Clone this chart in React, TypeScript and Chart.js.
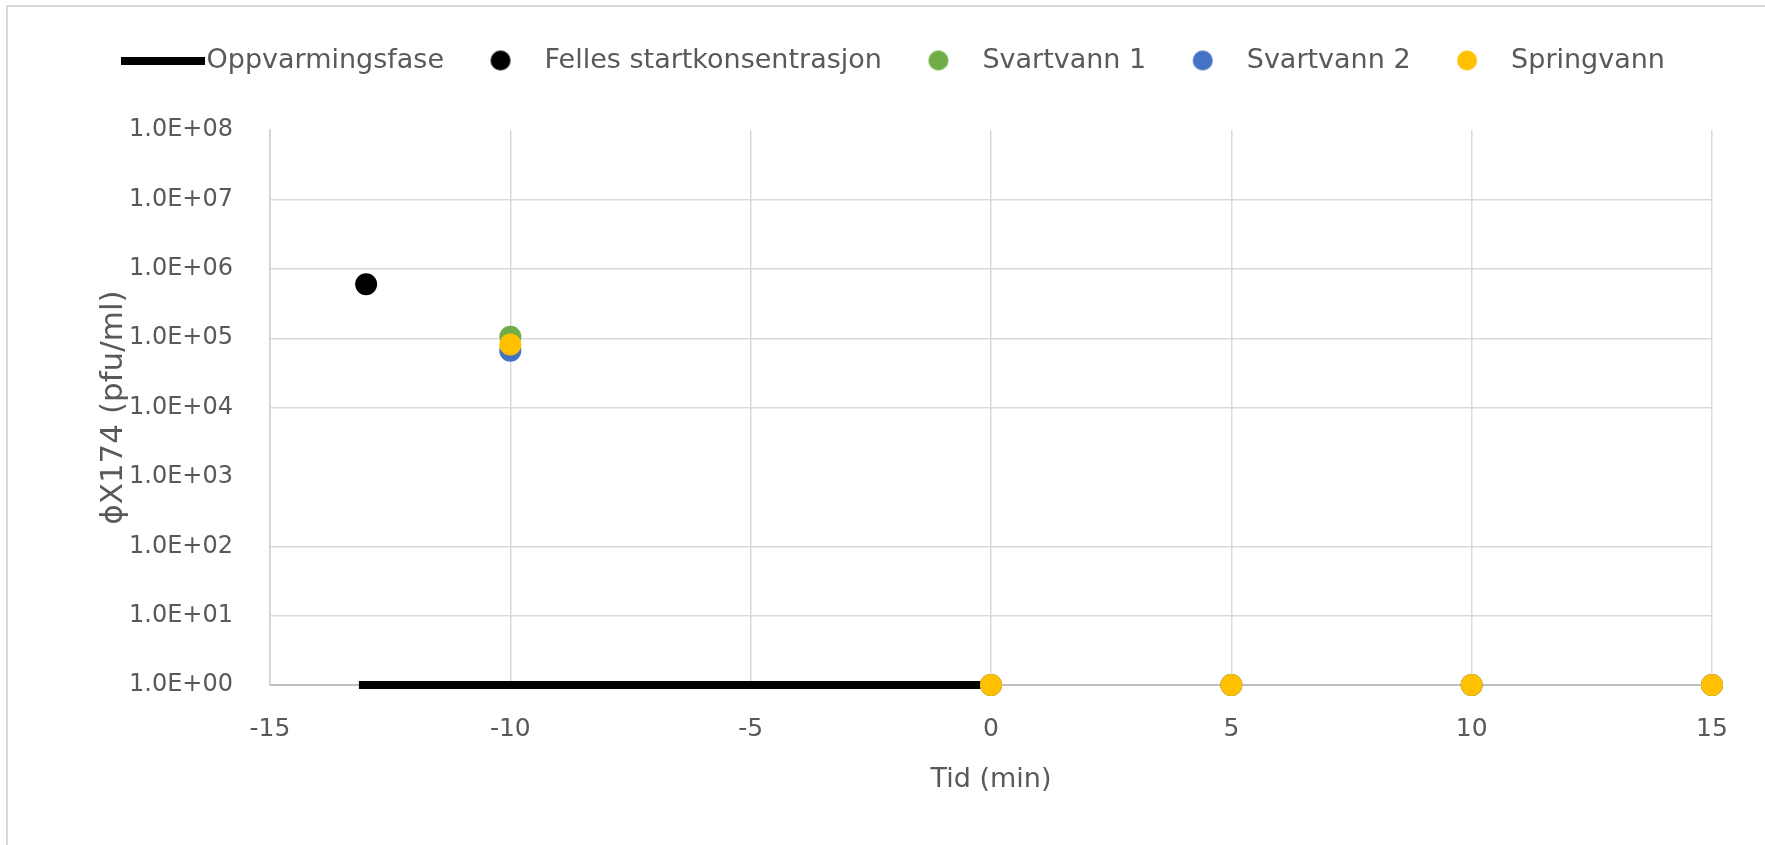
import React, { useEffect, useRef } from "react";
import { Chart, registerables } from "chart.js";

Chart.register(...registerables);

// ---- Data ----
const SERIES_LABELS = [
  "Oppvarmingsfase",
  "Felles startkonsentrasjon",
  "Svartvann 1",
  "Svartvann 2",
  "Springvann",
];
const SERIES_COLORS = ["#000000", "#000000", "#70ad47", "#4472c4", "#ffc000"];

const HEATING_X = [-13.15, 0];
const HEATING_Y = [1, 1];

const START_X = [-13];
const START_Y = [6.0e5];

const TIMES = [-10, 0, 5, 10, 15];
const SVARTVANN_1 = [1.05e5, 1, 1, 1, 1];
const SVARTVANN_2 = [6.6e4, 1, 1, 1, 1];
const SPRINGVANN = [8.1e4, 1, 1, 1, 1];

const X_MIN = -15;
const X_MAX = 15;
const X_STEP = 5;

const Y_TICKS = [1, 10, 100, 1e3, 1e4, 1e5, 1e6, 1e7, 1e8];
const Y_TICK_LABELS = [
  "1.0E+00",
  "1.0E+01",
  "1.0E+02",
  "1.0E+03",
  "1.0E+04",
  "1.0E+05",
  "1.0E+06",
  "1.0E+07",
  "1.0E+08",
];
const Y_HIDDEN_GRID = [1e3, 1e8];

const X_TITLE = "Tid (min)";
const Y_TITLE = "ϕX174 (pfu/ml)";

const TEXT = "#595959";

function toPoints(xs: number[], ys: number[]) {
  return xs.map((x, i) => ({ x, y: ys[i] }));
}

function makeDot(color: string, r: number) {
  const c = document.createElement("canvas");
  c.width = r * 2 + 2;
  c.height = r * 2 + 2;
  const g = c.getContext("2d")!;
  g.fillStyle = color;
  g.beginPath();
  g.arc(r + 1, r + 1, r, 0, Math.PI * 2);
  g.fill();
  return c;
}

function makeLineSample(color: string, w: number, h: number) {
  const c = document.createElement("canvas");
  c.width = w;
  c.height = h;
  const g = c.getContext("2d")!;
  g.fillStyle = color;
  g.fillRect(0, 0, w, h);
  return c;
}

export default function App() {
  const ref = useRef<HTMLCanvasElement | null>(null);

  useEffect(() => {
    if (!ref.current) return;
    Chart.defaults.font.family = "'DejaVu Sans', sans-serif";
    Chart.defaults.color = TEXT;

    const markers = [
      makeLineSample(SERIES_COLORS[0], 84, 8),
      makeDot(SERIES_COLORS[1], 10),
      makeDot(SERIES_COLORS[2], 10),
      makeDot(SERIES_COLORS[3], 10),
      makeDot(SERIES_COLORS[4], 10),
    ];

    const pointDs = (i: number, data: { x: number; y: number }[], order: number) => ({
      label: SERIES_LABELS[i],
      data,
      backgroundColor: SERIES_COLORS[i],
      borderColor: SERIES_COLORS[i],
      borderWidth: 0,
      pointRadius: 11,
      pointHoverRadius: 11,
      showLine: false,
      clip: false as any,
      order,
    });

    const chart = new Chart(ref.current, {
      type: "scatter",
      data: {
        datasets: [
          {
            label: SERIES_LABELS[0],
            data: toPoints(HEATING_X, HEATING_Y),
            borderColor: SERIES_COLORS[0],
            backgroundColor: SERIES_COLORS[0],
            borderWidth: 8,
            pointRadius: 0,
            showLine: true,
            borderCapStyle: "butt",
            clip: false as any,
            order: 4,
          } as any,
          pointDs(1, toPoints(START_X, START_Y), 3),
          pointDs(2, toPoints(TIMES, SVARTVANN_1), 2),
          pointDs(3, toPoints(TIMES, SVARTVANN_2), 1),
          pointDs(4, toPoints(TIMES, SPRINGVANN), 0),
        ],
      },
      options: {
        responsive: false,
        animation: false,
        layout: { padding: { top: 21, right: 53, bottom: 0, left: 85 } },
        plugins: {
          tooltip: { enabled: false },
          title: {
            display: true,
            text: " ",
            font: { size: 1 },
            padding: { top: 0, bottom: 45 },
            weight: 500,
          } as any,
          legend: {
            position: "top",
            labels: {
              usePointStyle: true,
              pointStyleWidth: 61,
              padding: 26,
              color: TEXT,
              font: { size: 27 },
              generateLabels: (ch: any) =>
                ch.data.datasets.map((ds: any, i: number) => ({
                  text: ds.label,
                  pointStyle: markers[i],
                  fillStyle: SERIES_COLORS[i],
                  strokeStyle: SERIES_COLORS[i],
                  lineWidth: 0,
                  hidden: false,
                  datasetIndex: i,
                  fontColor: TEXT,
                })),
            },
          },
        },
        scales: {
          x: {
            type: "linear",
            min: X_MIN,
            max: X_MAX,
            ticks: {
              stepSize: X_STEP,
              padding: 29,
              color: TEXT,
              font: { size: 25 },
            },
            grid: { color: "#d9d9d9", lineWidth: 1.5, drawTicks: false },
            border: { color: "#bfbfbf", width: 2 },
            title: {
              display: true,
              text: X_TITLE,
              color: TEXT,
              font: { size: 27 },
              padding: { top: 0, bottom: 49 },
            },
            afterFit: (s: any) => {
              s.height = 160;
            },
          },
          y: {
            type: "logarithmic",
            min: Y_TICKS[0],
            max: Y_TICKS[Y_TICKS.length - 1],
            afterBuildTicks: (s: any) => {
              s.ticks = Y_TICKS.map((v) => ({ value: v }));
            },
            ticks: {
              padding: 37,
              color: TEXT,
              font: { size: 24 },
              autoSkip: false,
              callback: (v: any) => {
                const idx = Math.round(Math.log10(Number(v)));
                return Y_TICK_LABELS[idx] ?? "";
              },
            },
            grid: {
              drawTicks: false,
              lineWidth: 1.5,
              color: (ctx: any) =>
                ctx.tick && Y_HIDDEN_GRID.includes(ctx.tick.value)
                  ? "rgba(0,0,0,0)"
                  : "#d9d9d9",
            },
            border: { color: "#cfcfcf", width: 1.5 },
            title: {
              display: true,
              text: Y_TITLE,
              color: TEXT,
              font: { size: 31 },
              padding: { top: 10, bottom: 0 },
            },
            afterFit: (s: any) => {
              s.width = 270 - 85;
            },
          },
        },
      } as any,
    });

    return () => chart.destroy();
  }, []);

  return (
    <div
      style={{
        position: "fixed",
        left: 0,
        top: 0,
        width: 1765,
        height: 845,
        overflow: "hidden",
        background: "#ffffff",
      }}
    >
      <div
        style={{
          position: "absolute",
          left: 6,
          top: 5,
          width: 3000,
          height: 3000,
          borderTop: "2px solid #d9d9d9",
          borderLeft: "2px solid #d9d9d9",
        }}
      />
      <canvas
        ref={ref}
        width={1765}
        height={845}
        style={{ position: "absolute", left: 0, top: 0, width: 1765, height: 845 }}
      />
    </div>
  );
}
